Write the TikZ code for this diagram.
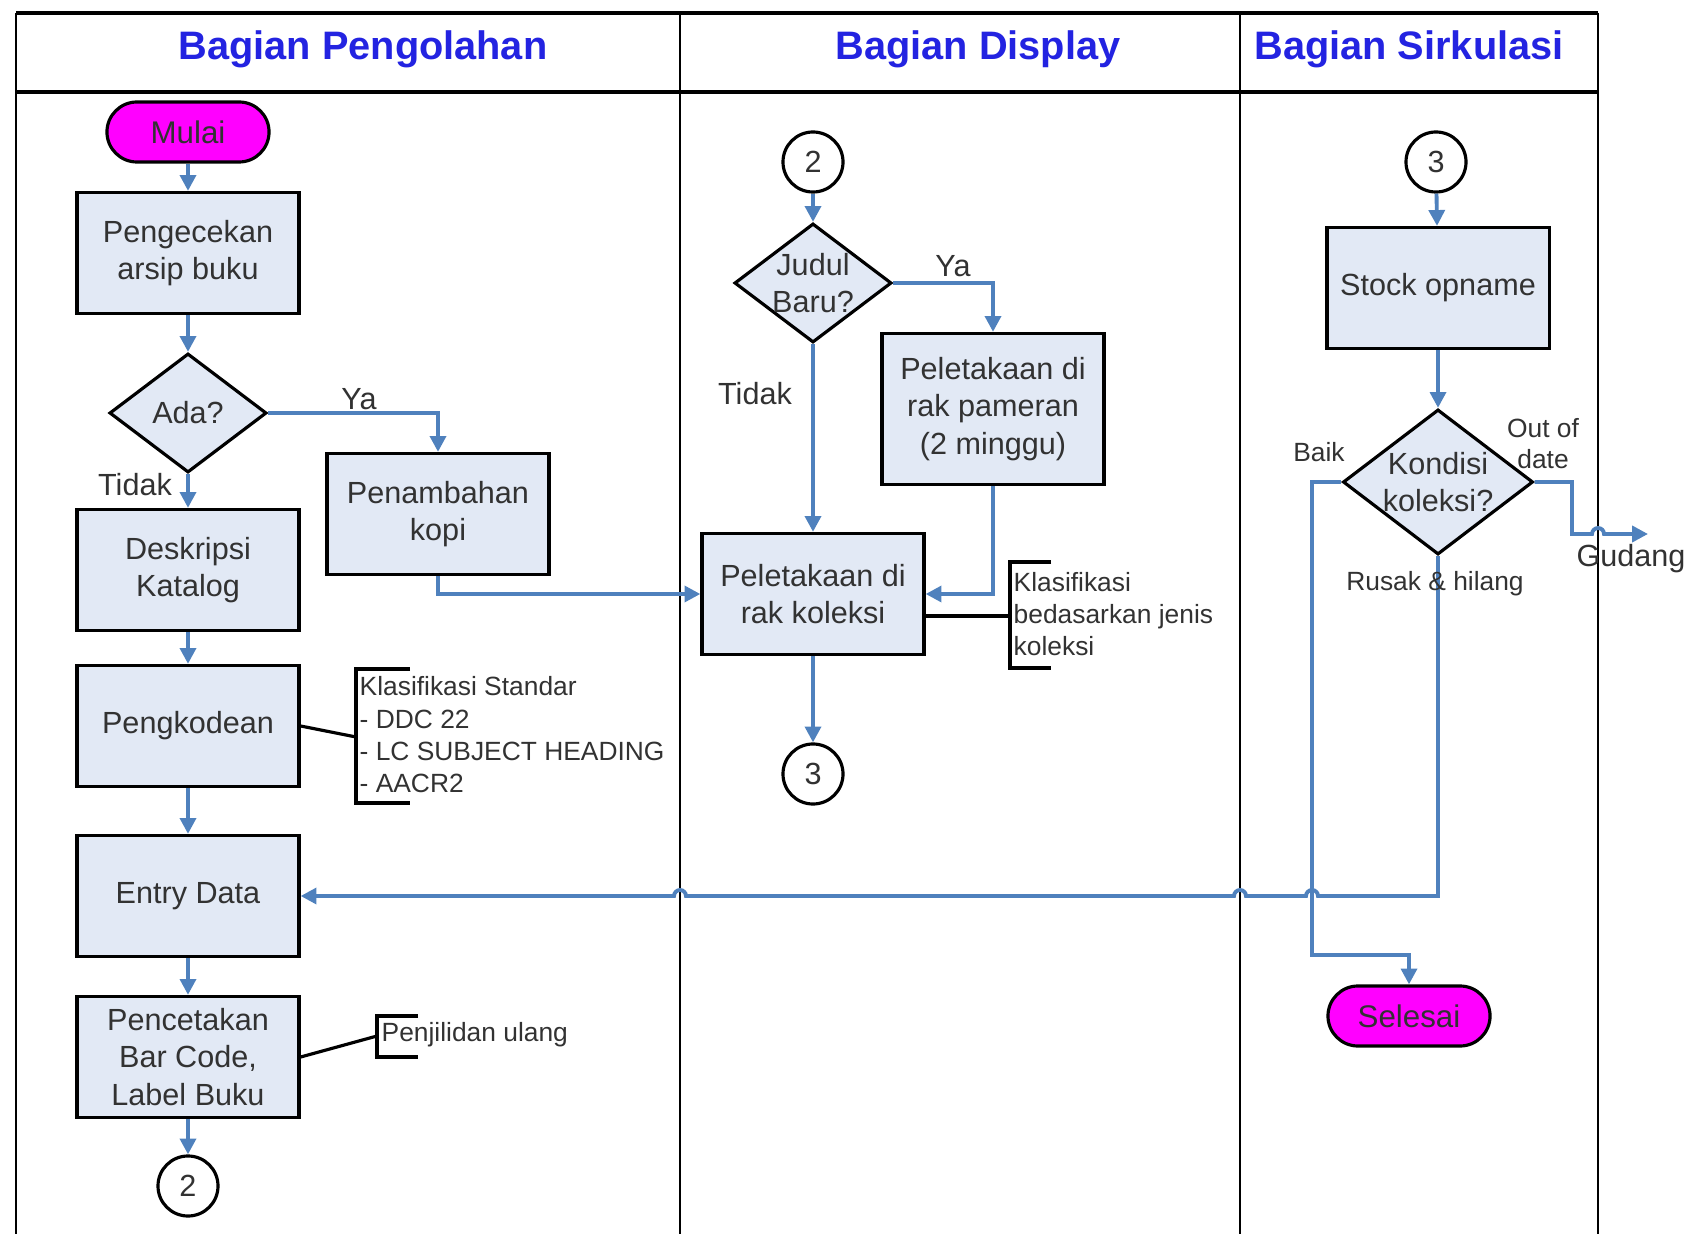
\documentclass[tikz,border=0pt]{standalone}
\usepackage{fontspec}
\setmainfont{Liberation Sans}
\usetikzlibrary{shapes.geometric}
\usetikzlibrary{arrows.meta}

\definecolor{flowblue}{RGB}{79,129,189}
\definecolor{boxfill}{RGB}{226,233,245}
\definecolor{titleblue}{RGB}{35,35,225}
\definecolor{txtgray}{RGB}{50,50,50}
\definecolor{termfill}{RGB}{255,0,255}

\begin{document}
\begin{tikzpicture}[
    x=0.01cm, y=-0.01cm,
    box/.style={draw, line width=0.9pt, fill=boxfill, minimum width=2.22cm, minimum height=1.21cm, align=center, text=txtgray, font=\fontsize{8.7}{10.7}\selectfont},
    terminal/.style={draw, line width=0.9pt, fill=termfill, rounded corners=0.3cm, minimum width=1.62cm, minimum height=0.6cm, text=txtgray, font=\fontsize{8.9}{10.7}\selectfont},
    decision/.style={draw, diamond, line width=0.9pt, fill=boxfill, minimum width=1.57cm, minimum height=1.19cm, inner sep=0pt, label={[align=center, text=txtgray, font=\fontsize{8.7}{10.7}\selectfont]center:#1}},
    pageref/.style={circle, draw, line width=0.9pt, fill=white, minimum size=0.6cm, inner sep=0pt, text=txtgray, font=\fontsize{8.7}{10.7}\selectfont},
    arrow/.style={-{Triangle[length=4.5pt,width=4.5pt]}, line width=1.1pt, flowblue},
    note/.style={align=left, inner sep=0pt, text=txtgray, font=\fontsize{7.5}{9.2}\selectfont},
    tag/.style={inner sep=0pt, text=txtgray, font=\fontsize{8.7}{10.7}\selectfont},
    smalltag/.style={inner sep=0pt, align=center, text=txtgray, font=\fontsize{7.5}{8.8}\selectfont},
    title/.style={text=titleblue, font=\bfseries\fontsize{11.3}{13}\selectfont},
    brace/.style={line width=0.9pt}
]
    \useasboundingbox (0,0) rectangle (1691,1234);

    % Swimlanes
    \draw[line width=1.2pt] (16,13) -- (1598,13);
    \draw[line width=1.4pt] (16,92) -- (1598,92);
    \draw[line width=0.8pt] (16,13) -- (16,1234);
    \draw[line width=0.8pt] (680,13) -- (680,1234);
    \draw[line width=0.8pt] (1240,13) -- (1240,1234);
    \draw[line width=0.8pt] (1598,13) -- (1598,1234);

    \node[title] (olah) at (363,49) {Bagian Pengolahan};
    \node[title] (display) at (978,49) {Bagian Display};
    \node[title] (sirkulasi) at (1409,49) {Bagian Sirkulasi};

    % Bagian Pengolahan
    \node[terminal] (mulai) at (188,132) {Mulai};
    \node[box] (cek) at (188,253) {Pengecekan\\arsip buku};
    \node[decision=Ada?] (ada) at (188,413) {};
    \node[box] (tambah) at (438,514) {Penambahan\\kopi};
    \node[box] (desk) at (188,570) {Deskripsi\\Katalog};
    \node[box] (kode) at (188,726) {Pengkodean};
    \node[box] (entry) at (188,896) {Entry Data};
    \node[box] (cetak) at (188,1057) {Pencetakan\\Bar Code,\\Label Buku};
    \node[pageref] (duaA) at (188,1186) {2};

    \draw[arrow] (mulai) -- (cek);
    \draw[arrow] (cek) -- (ada);
    \draw[arrow] (ada) -- (desk);
    \draw[arrow] (ada.east) -| (tambah.north);
    \draw[arrow] (desk) -- (kode);
    \draw[arrow] (kode) -- (entry);
    \draw[arrow] (entry) -- (cetak);
    \draw[arrow] (cetak) -- (duaA);

    \node[tag] (yaA) at (359,399) {Ya};
    \node[tag] (tidakA) at (135,485) {Tidak};

    % catatan pengkodean dan pencetakan
    \coordinate (kodenote) at (356,737);
    \draw[brace] (kode.east) -- (kodenote);
    \draw[brace] (410,669) -- (356,669) -- (356,803) -- (410,803);
    \node[note, anchor=west] (kodetext) at (359,735) {Klasifikasi Standar\\- DDC 22\\- LC SUBJECT HEADING\\- AACR2};

    \coordinate (cetaknote) at (377,1036);
    \draw[brace] (cetak.east) -- (cetaknote);
    \draw[brace] (418,1016) -- (377,1016) -- (377,1057) -- (418,1057);
    \node[note, anchor=west] (cetaktext) at (381,1035) {Penjilidan ulang};

    % Bagian Display
    \node[pageref] (duaB) at (813,162) {2};
    \node[decision={Judul\\Baru?}] (judul) at (813,283) {};
    \node[box, minimum height=1.51cm] (pameran) at (993,409) {Peletakaan di\\rak pameran\\(2 minggu)};
    \node[box] (koleksi) at (813,594) {Peletakaan di\\rak koleksi};
    \node[pageref] (tigaA) at (813,774) {3};

    \draw[arrow] (duaB) -- (judul);
    \draw[arrow] (judul.east) -| (pameran.north);
    \draw[arrow] (judul) -- (koleksi);
    \draw[arrow] (pameran.south) |- (koleksi.east);
    \draw[arrow] (tambah.south) |- (koleksi.west);
    \draw[arrow] (koleksi) -- (tigaA);

    \node[tag] (yaB) at (953,266) {Ya};
    \node[tag] (tidakB) at (755,394) {Tidak};

    \coordinate (kolnote) at (1010,616);
    \draw[brace] (koleksi.east |- kolnote) -- (kolnote);
    \draw[brace] (1051,562) -- (1010,562) -- (1010,668) -- (1051,668);
    \node[note, anchor=west] (koltext) at (1013,614) {Klasifikasi\\bedasarkan jenis\\koleksi};

    % Bagian Sirkulasi
    \node[pageref] (tigaB) at (1436,162) {3};
    \node[box] (stock) at (1438,288) {Stock opname};
    \node[decision={Kondisi\\koleksi?}, minimum width=1.9cm, minimum height=1.45cm] (kondisi) at (1438,482) {};
    \node[terminal] (selesai) at (1409,1016) {Selesai};

    \draw[arrow] (tigaB) -- (stock);
    \draw[arrow] (stock) -- (kondisi);

    \coordinate (baik) at (1312,955);
    \draw[arrow] (kondisi.west) -| (baik) -| (selesai.north);

    \coordinate (outturn) at (1572,534);
    \coordinate (gudang) at (1648,534);
    \draw[arrow] (kondisi.east) -| (outturn) -- (1592,534)
        arc[start angle=180, end angle=0, radius=0.06cm] -- (gudang);

    \coordinate (rusak) at (1438,896);
    \draw[arrow] (kondisi.south) -- (rusak) -- (1318,896)
        arc[start angle=0, end angle=180, radius=0.06cm] -- (1246,896)
        arc[start angle=0, end angle=180, radius=0.06cm] -- (686,896)
        arc[start angle=0, end angle=180, radius=0.06cm] -- (entry.east);

    \node[smalltag] (baiktag) at (1319,452) {Baik};
    \node[smalltag] (outtag) at (1543,444) {Out of\\date};
    \node[smalltag] (rusaktag) at (1435,584) {Rusak \& hilang};
    \node[tag] (gudangtag) at (1631,559) {Gudang};
\end{tikzpicture}
\end{document}
